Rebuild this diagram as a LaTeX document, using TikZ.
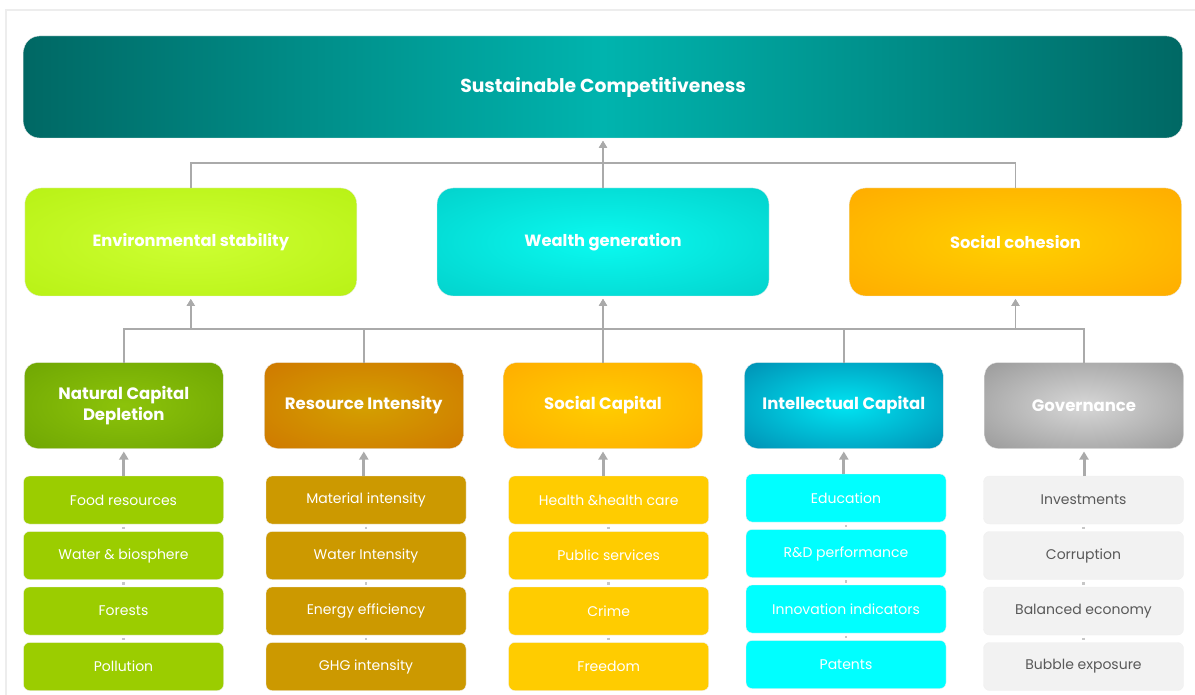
\documentclass[tikz,border=0pt]{standalone}
\usepackage{fontspec}
\setmainfont{Poppins}
\usetikzlibrary{arrows.meta, positioning, calc}

\definecolor{tealD}{RGB}{0,104,100}
\definecolor{tealL}{RGB}{0,180,174}
\definecolor{envL}{RGB}{205,255,50}
\definecolor{envD}{RGB}{176,236,10}
\definecolor{wealthL}{RGB}{10,250,240}
\definecolor{wealthD}{RGB}{0,194,190}
\definecolor{cohL}{RGB}{255,208,0}
\definecolor{cohD}{RGB}{255,158,0}
\definecolor{ncdL}{RGB}{140,195,10}
\definecolor{ncdD}{RGB}{100,155,0}
\definecolor{riL}{RGB}{212,160,0}
\definecolor{riD}{RGB}{205,105,0}
\definecolor{scL}{RGB}{255,205,0}
\definecolor{scD}{RGB}{255,160,0}
\definecolor{icL}{RGB}{0,228,242}
\definecolor{icD}{RGB}{0,110,155}
\definecolor{govL}{RGB}{215,215,215}
\definecolor{govD}{RGB}{130,130,130}
\definecolor{leafN}{RGB}{155,205,0}
\definecolor{leafR}{RGB}{204,153,0}
\definecolor{leafS}{RGB}{255,204,0}
\definecolor{leafI}{RGB}{0,255,255}
\definecolor{leafG}{RGB}{242,242,242}
\definecolor{linkgray}{RGB}{170,170,170}

% radial glow reaching the box edges
\colorlet{glowin}{white}
\colorlet{glowout}{black}
\pgfdeclareradialshading[glowin,glowout]{glow}{\pgfpoint{0bp}{0bp}}{color(0bp)=(glowin); color(50bp)=(glowout)}

\begin{document}
\begin{tikzpicture}[
        x=1pt, y=-1pt,
        box/.style = {rectangle, rounded corners=13pt, minimum height=86pt, minimum width=199pt, align=center, text=white, inner sep=0pt, outer sep=0pt, draw=black!8, font=\fontsize{16.5}{21}\selectfont\bfseries},
        head/.style = {box, minimum height=108pt, minimum width=332pt, rounded corners=16pt, font=\fontsize{16.3}{20}\selectfont\bfseries},
        leaf/.style = {rectangle, rounded corners=6pt, minimum height=48pt, minimum width=200pt, inner sep=0pt, outer sep=0pt, fill=#1, draw=black!6, text=white, font=\fontsize{14}{17}\selectfont},
        glow/.style 2 args = {/utils/exec={\colorlet{glowin}{#1}\colorlet{glowout}{#2}}, shade, shading=glow},
        link/.style = {draw=linkgray, line width=1.6pt, -{Triangle[width=8pt,length=7pt]}, shorten >=3pt},
        feed/.style = {draw=linkgray, line width=3pt, -{Triangle[width=9pt,length=8pt]}, shorten >=3pt},
        joint/.style = {draw=black!22, line width=2.5pt, shorten <=2.5pt, shorten >=2.5pt},
        node distance=7.5pt,
    ]
    \useasboundingbox (0,0) rectangle (1195,695);
    \draw[black!7, line width=1.5pt] (6,695) -- (6,10) -- (1195,10);

    \node[box, minimum width=1159pt, minimum height=102pt, rounded corners=16pt, left color=tealD, right color=tealD, middle color=tealL, font=\fontsize{18.8}{22}\selectfont\bfseries] (SC) at (603,87) {Sustainable Competitiveness};

    \node[head, glow={envL}{envD}] (E) at (190.8,242) {Environmental stability};
    \node[head, glow={wealthL}{wealthD}] (W) at (603,242) {Wealth generation};
    \node[head, glow={cohL}{cohD}] (C) at (1015.5,242) {Social cohesion};

    \node[box, glow={ncdL}{ncdD}] (N) at (123.8,405.5) {Natural Capital\\Depletion};
    \node[box, glow={riL}{riD}] (R) at (363.8,405.5) {Resource Intensity};
    \node[box, glow={scL}{scD}] (S) at (603,405.5) {Social Capital};
    \node[box, glow={icL}{icD}] (I) at (843.8,405.5) {Intellectual Capital};
    \node[box, glow={govL}{govD}] (G) at (1084,405.5) {Governance};

    \node[leaf=leafN, anchor=north] (N1) at (123.5,476) {Food resources};
    \node[leaf=leafN, below=of N1] (N2) {Water \& biosphere};
    \node[leaf=leafN, below=of N2] (N3) {Forests};
    \node[leaf=leafN, below=of N3] (N4) {Pollution};

    \node[leaf=leafR, anchor=north] (R1) at (366,476) {Material intensity};
    \node[leaf=leafR, below=of R1] (R2) {Water Intensity};
    \node[leaf=leafR, below=of R2] (R3) {Energy efficiency};
    \node[leaf=leafR, below=of R3] (R4) {GHG intensity};

    \node[leaf=leafS, anchor=north] (S1) at (608.7,476) {Health \&health care};
    \node[leaf=leafS, below=of S1] (S2) {Public services};
    \node[leaf=leafS, below=of S2] (S3) {Crime};
    \node[leaf=leafS, below=of S3] (S4) {Freedom};

    \node[leaf=leafI, anchor=north] (I1) at (846,474) {Education};
    \node[leaf=leafI, below=of I1] (I2) {R\&D performance};
    \node[leaf=leafI, below=of I2] (I3) {Innovation indicators};
    \node[leaf=leafI, below=of I3] (I4) {Patents};

    \node[leaf=leafG, text=black!65, anchor=north] (G1) at (1083.5,476) {Investments};
    \node[leaf=leafG, text=black!65, below=of G1] (G2) {Corruption};
    \node[leaf=leafG, text=black!65, below=of G2] (G3) {Balanced economy};
    \node[leaf=leafG, text=black!65, below=of G3] (G4) {Bubble exposure};

    % bus lines
    \coordinate (bus) at ($(SC.south)+(0,25)$);
    \foreach \p in {E,W,C}
        \coordinate (\p-bus) at ($(\p.south)+(0,33)$);

    \draw[link] (E.north) |- (bus) -- (SC.south);
    \draw[link] (C.north) |- (bus) -- (SC.south);
    \draw[link] (W.north) -- (SC.south);
    \foreach \a/\b in {N/E, R/E, R/W, S/W, S/C, I/W, G/C}
        \draw[link] (\a.north) |- (\b-bus) -- (\b.south);

    \foreach \p in {N,R,S,I,G}{
        \draw[feed] (\p1.north -| \p.south) -- (\p.south);
        \foreach \i [evaluate=\i as \j using int(\i+1)] in {1,2,3}
            \draw[joint] (\p\i.south) -- (\p\j.north);
    }
\end{tikzpicture}
\end{document}
